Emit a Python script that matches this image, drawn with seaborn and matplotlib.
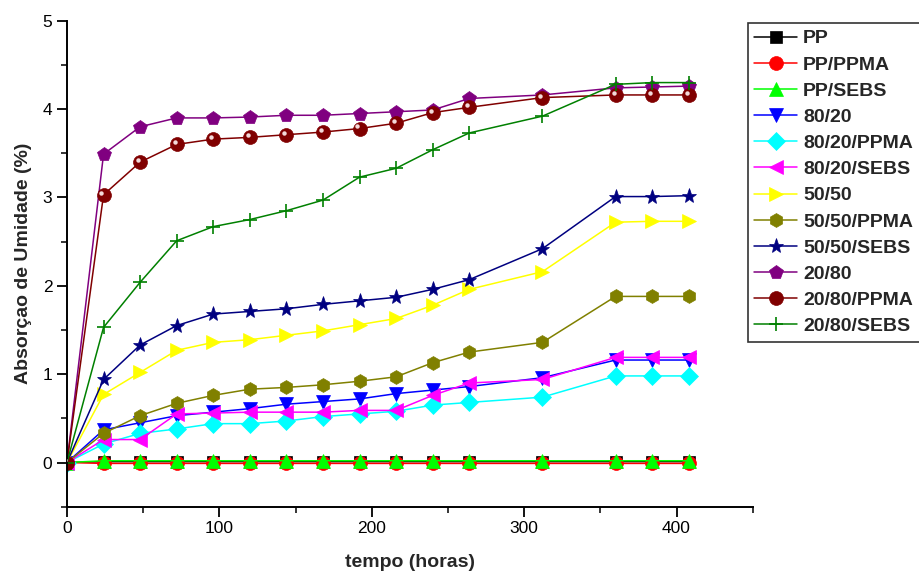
import numpy as np
import pandas as pd
import matplotlib
matplotlib.use("Agg")
import matplotlib.pyplot as plt
import matplotlib.transforms as mtransforms
import seaborn as sns

# Exposure time (hours)
tempo = [0, 24, 48, 72, 96, 120, 144, 168, 192, 216, 240, 264, 312, 360, 384, 408]

# Moisture uptake (%) for each composition
pp         = [0, 0.01, 0.01, 0.01, 0.01, 0.01, 0.01, 0.01, 0.01, 0.01, 0.01, 0.01, 0.01, 0.01, 0.01, 0.01]
pp_ppma    = [0, -0.01, -0.01, -0.01, -0.01, -0.01, -0.01, -0.01, -0.01, -0.01, -0.01, -0.01, -0.01, -0.01, -0.01, -0.01]
pp_sebs    = [0, 0.02, 0.02, 0.02, 0.02, 0.02, 0.02, 0.02, 0.02, 0.02, 0.02, 0.02, 0.02, 0.02, 0.02, 0.02]
b80_20     = [0, 0.37, 0.45, 0.53, 0.57, 0.61, 0.66, 0.69, 0.72, 0.78, 0.82, 0.86, 0.96, 1.16, 1.16, 1.16]
b80_20_pp  = [0, 0.21, 0.33, 0.38, 0.44, 0.44, 0.47, 0.52, 0.55, 0.58, 0.65, 0.68, 0.74, 0.98, 0.98, 0.98]
b80_20_se  = [0, 0.26, 0.26, 0.55, 0.56, 0.57, 0.57, 0.57, 0.59, 0.59, 0.76, 0.90, 0.94, 1.19, 1.19, 1.19]
b50_50     = [0, 0.77, 1.02, 1.27, 1.36, 1.39, 1.44, 1.49, 1.56, 1.63, 1.78, 1.96, 2.16, 2.72, 2.73, 2.73]
b50_50_pp  = [0, 0.33, 0.53, 0.67, 0.76, 0.83, 0.85, 0.88, 0.92, 0.97, 1.13, 1.25, 1.36, 1.88, 1.88, 1.88]
b50_50_se  = [0, 0.94, 1.33, 1.55, 1.68, 1.71, 1.74, 1.79, 1.83, 1.87, 1.96, 2.07, 2.42, 3.01, 3.01, 3.02]
b20_80     = [0, 3.49, 3.80, 3.90, 3.90, 3.91, 3.93, 3.93, 3.95, 3.97, 3.99, 4.12, 4.16, 4.24, 4.25, 4.26]
b20_80_pp  = [0, 3.03, 3.40, 3.60, 3.66, 3.68, 3.71, 3.74, 3.78, 3.84, 3.96, 4.02, 4.13, 4.16, 4.16, 4.16]
b20_80_se  = [0, 1.53, 2.04, 2.51, 2.67, 2.75, 2.85, 2.97, 3.23, 3.33, 3.54, 3.73, 3.92, 4.28, 4.30, 4.30]

labels = ["PP", "PP/PPMA", "PP/SEBS", "80/20", "80/20/PPMA", "80/20/SEBS",
          "50/50", "50/50/PPMA", "50/50/SEBS", "20/80", "20/80/PPMA", "20/80/SEBS"]
series = [pp, pp_ppma, pp_sebs, b80_20, b80_20_pp, b80_20_se,
          b50_50, b50_50_pp, b50_50_se, b20_80, b20_80_pp, b20_80_se]
colors = ["#000000", "#ff0000", "#00ff00", "#0000ff", "#00ffff", "#ff00ff",
          "#ffff00", "#808000", "#000080", "#800080", "#800000", "#008000"]
markers = ["s", "o", "^", "v", "D", "<", ">", "h", "*", "p", "o", "+"]
msizes = [9, 10, 10, 10, 9, 10, 10, 10, 11, 10, 10, 10]

sns.set_style("ticks")
plt.rcParams["font.family"] = ["Liberation Sans", "DejaVu Sans"]

fig = plt.figure(figsize=(9.2, 5.71), dpi=100)
ax = fig.add_axes([0.0728, 0.1126, 0.7454, 0.8511])

df = pd.DataFrame({"tempo": tempo})
for lab, vals, col, mk, ms in zip(labels, series, colors, markers, msizes):
    df[lab] = vals
    sns.lineplot(data=df, x="tempo", y=lab, ax=ax, color=col, marker=mk,
                 markersize=ms, markeredgecolor=col, markeredgewidth=1.2 if mk == "+" else 0.5,
                 linewidth=1.1, label=lab, legend=False, estimator=None)

# glossy highlight on the 20/80/PPMA spheres
shift = mtransforms.offset_copy(ax.transData, fig=fig, x=-1.5, y=1.5, units="points")
ax.plot(tempo, b20_80_pp, linestyle="none", marker="o", markersize=3.2,
        color="#f3dada", markeredgewidth=0, transform=shift, zorder=5)

ax.set_xlim(0, 450)
ax.set_ylim(-0.5, 5)
ax.set_xticks([0, 100, 200, 300, 400])
ax.set_xticks([50, 150, 250, 350, 450], minor=True)
ax.set_yticks([0, 1, 2, 3, 4, 5])
ax.set_yticks([-0.5, 0.5, 1.5, 2.5, 3.5, 4.5], minor=True)
ax.tick_params(which="major", direction="out", length=7, width=1.3, labelsize=12.5, colors="black")
ax.tick_params(which="minor", direction="out", length=4, width=1.3)
for s in ["top", "right"]:
    ax.spines[s].set_visible(False)
for s in ["left", "bottom"]:
    ax.spines[s].set_linewidth(1.4)
    ax.spines[s].set_color("black")

ax.set_xlabel("tempo (horas)", fontsize=14, fontweight="bold", labelpad=13)
ax.set_ylabel("Absorçao de Umidade (%)", fontsize=14, fontweight="bold", labelpad=8)

handles, hl = ax.get_legend_handles_labels()
leg = fig.legend(handles, hl, loc="upper left", bbox_to_anchor=(0.8127, 0.9597),
                 borderaxespad=0, frameon=True, fancybox=False, edgecolor="black",
                 prop={"weight": "bold", "size": 14}, handlelength=2.2,
                 labelspacing=0.44, handletextpad=0.3, borderpad=0.35)
leg.get_frame().set_linewidth(1.2)

fig.savefig("out.png", dpi=100)
